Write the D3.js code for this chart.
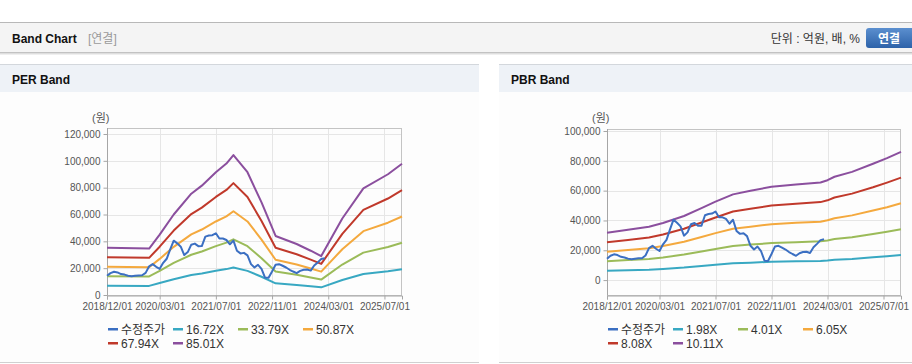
<!DOCTYPE html>
<html><head><meta charset="utf-8">
<script src="https://cdn.jsdelivr.net/npm/d3@7"></script>
<style>
html,body{margin:0;padding:0;background:#fff;}
svg{display:block;font-family:"Liberation Sans",Arial,"Noto Sans CJK KR",sans-serif;}
</style></head><body>
<svg id="c" width="912" height="364"></svg>
<script>
// ---------- data ----------
const xTickIdx = [0, 15, 31, 47, 63, 79];           // months since 2018/12
const xTickLabels = ["2018/12/01","2020/03/01","2021/07/01","2022/11/01","2024/03/01","2025/07/01"];
const perYTicks = [0,20000,40000,60000,80000,100000,120000];
const pbrYTicks = [0,20000,40000,60000,80000,100000];

// 수정주가 (monthly, index 0 = 2018/12)
const price = [14300,16300,17300,16800,15600,15200,14400,14000,14300,14600,14700,16500,21400,23000,21000,19500,24000,27000,34000,40500,38500,36000,29800,32000,37500,38300,36400,36500,43500,44300,44600,46000,42100,42100,41000,37800,40500,33000,31000,31400,29500,23000,20500,22500,19500,13000,12800,17500,22600,23000,21800,20500,18800,17500,16300,18000,18800,19000,18200,22000,24300,26800,27400];

// PER band (month index of each value)
const perIdx  = [0,12,15,19,24,27,31,34,36,40,44,48,54,58,61,67,73,80,84];
const per1672 = [6900,6800,8900,11800,14900,16000,18000,19300,20500,18000,13600,8700,7500,6500,5700,11200,15600,17700,19200];
const per3379 = [14000,13800,17900,23900,30000,32400,36400,39000,41500,36400,27400,17500,15100,13100,11500,22700,31600,35800,38900];
const per5087 = [21100,20700,26900,35900,45200,48800,54800,58600,62400,54800,41300,26300,22700,19700,17400,34100,47600,53900,58500];
const per6794 = [28200,27700,36000,48000,60300,65100,73100,78300,83400,73100,55100,35200,30400,26400,23200,45600,63500,71900,78200];
const per8501 = [35300,34600,45000,60000,75500,81500,91500,98000,104300,91500,69000,44000,38000,33000,29000,57000,79500,90000,97800];

// PBR band
const pbrIdx  = [0,6,12,16,22,27,31,36,41,47,54,61,63,65,70,76,80,84];
const pbr198  = [6200,6600,7000,7500,8400,9500,10300,11300,11700,12300,12600,12800,13100,13600,14200,15300,16000,16800];
const pbr401  = [12600,13400,14200,15200,17100,19200,20900,22800,23800,24800,25400,26000,26600,27500,28800,30900,32400,34100];
const pbr605  = [19000,20200,21400,22900,25700,28900,31500,34400,35800,37500,38400,39200,40100,41500,43400,46700,48900,51500];
const pbr808  = [25400,26900,28600,30600,34400,38600,42000,46000,47900,50000,51200,52300,53500,55400,58000,62300,65400,68700];
const pbr1011 = [31800,33700,35800,38300,43000,48300,52600,57500,59900,62600,64100,65500,67000,69300,72600,78000,81800,86000];

const colors = {price:"#3b6fc2", c1:"#38a8c2", c2:"#9bbb59", c3:"#f4a93e", c4:"#c0392b", c5:"#8b4f9e"};

// ---------- page chrome ----------
const svg = d3.select("#c");
svg.append("rect").attr("x",0).attr("y",22).attr("width",912).attr("height",31).attr("fill","#f4f4f4");
svg.append("line").attr("x1",0).attr("x2",912).attr("y1",22.5).attr("y2",22.5).attr("stroke","#b8b8b8");
svg.append("line").attr("x1",0).attr("x2",912).attr("y1",52.5).attr("y2",52.5).attr("stroke","#c2c2c2");
svg.append("line").attr("x1",0).attr("x2",912).attr("y1",53.5).attr("y2",53.5).attr("stroke","#dedede");
svg.append("line").attr("x1",0).attr("x2",912).attr("y1",54.5).attr("y2",54.5).attr("stroke","#efefef");
svg.append("text").attr("x",12).attr("y",43).attr("font-size",12).attr("font-weight","bold").attr("fill","#111").text("Band Chart");
svg.append("text").attr("x",88).attr("y",43).attr("font-size",12).attr("fill","#9a9a9a").text("[연결]");
svg.append("text").attr("x",860).attr("y",43).attr("text-anchor","end").attr("font-size",12).attr("fill","#333").text("단위 : 억원, 배, %");
const grad = svg.append("defs").append("linearGradient").attr("id","btn").attr("x1",0).attr("y1",0).attr("x2",0).attr("y2",1);
grad.append("stop").attr("offset","0%").attr("stop-color","#5b8fcf");
grad.append("stop").attr("offset","100%").attr("stop-color","#2d62a9");
svg.append("rect").attr("x",866).attr("y",28).attr("width",52).attr("height",20).attr("rx",3).attr("fill","url(#btn)");
svg.append("text").attr("x",889).attr("y",42.5).attr("text-anchor","middle").attr("font-size",12).attr("font-weight","bold").attr("fill","#fff").text("연결");

function panel(x0, w, title){
  svg.append("rect").attr("x",x0).attr("y",64).attr("width",w).attr("height",28).attr("fill","#eef2f7");
  svg.append("line").attr("x1",x0).attr("x2",x0+w).attr("y1",64.5).attr("y2",64.5).attr("stroke","#d3d7dc");
  svg.append("rect").attr("x",x0).attr("y",92).attr("width",w).attr("height",270).attr("fill","#fdfdfd");
  svg.append("line").attr("x1",x0).attr("x2",x0+w).attr("y1",362.5).attr("y2",362.5).attr("stroke","#d0d0d0");
  svg.append("text").attr("x",x0+12).attr("y",84).attr("font-size",12).attr("font-weight","bold").attr("fill","#111").text(title);
}
panel(0, 479, "PER Band");
panel(499, 413, "PBR Band");

// ---------- chart drawer ----------
function chart(o){
  const x = d3.scaleLinear().domain([0,84]).range([o.left,o.right]);
  const y = d3.scaleLinear().domain(o.yDom).range(o.yRange);
  const g = svg.append("g");
  g.selectAll(".hg").data(o.yTicks).join("line")
    .attr("x1",o.left).attr("x2",o.right).attr("y1",d=>Math.round(y(d))+0.5).attr("y2",d=>Math.round(y(d))+0.5)
    .attr("stroke","#e6e6e6");
  g.selectAll(".vg").data(xTickIdx).join("line")
    .attr("x1",d=>Math.round(x(d))+0.5).attr("x2",d=>Math.round(x(d))+0.5).attr("y1",o.top).attr("y2",o.bottom)
    .attr("stroke","#e6e6e6");
  g.append("rect").attr("x",o.left+0.5).attr("y",o.top+0.5).attr("width",o.right-o.left-1).attr("height",o.bottom-o.top)
    .attr("fill","none").attr("stroke","#c4c4c4");
  const ya = d3.axisLeft(y).tickValues(o.yTicks).tickSize(4).tickPadding(3).tickFormat(d3.format(","));
  const ay = g.append("g").attr("transform",`translate(${o.left+0.5},0)`).call(ya);
  ay.select(".domain").attr("d",`M0,${o.top}V${o.bottom}`).attr("stroke","#a6a6a6");
  ay.selectAll(".tick line").attr("stroke","#a6a6a6");
  ay.selectAll("text").attr("font-size",10).attr("fill","#555").attr("font-family","Liberation Sans, Arial, sans-serif");
  const xa = d3.axisBottom(x).tickValues(xTickIdx).tickSize(4).tickPadding(3).tickFormat((d,i)=>xTickLabels[i]);
  const ax = g.append("g").attr("transform",`translate(0,${o.bottom+0.5})`).call(xa);
  ax.select(".domain").attr("stroke","#a6a6a6");
  ax.selectAll(".tick line").attr("stroke","#a6a6a6");
  ax.selectAll("text").attr("font-size",10).attr("fill","#555").attr("font-family","Liberation Sans, Arial, sans-serif");
  g.append("text").attr("x",o.unitX).attr("y",122).attr("font-size",11).attr("fill","#555").text("(원)");
  const line = d3.line().x(d=>x(d[0])).y(d=>y(d[1]));
  o.bands.forEach(b=>{
    g.append("path").datum(o.idx.map((m,i)=>[m,b.v[i]])).attr("d",line)
      .attr("fill","none").attr("stroke",b.c).attr("stroke-width",2).attr("stroke-linejoin","round");
  });
  g.append("path").datum(price.map((v,i)=>[i,v])).attr("d",line)
    .attr("fill","none").attr("stroke",colors.price).attr("stroke-width",2).attr("stroke-linejoin","round");
  const items = [{n:"수정주가",c:colors.price}].concat(o.bands.map(b=>({n:b.n,c:b.c})));
  items.forEach((it,i)=>{
    const col = i%4, row = Math.floor(i/4);
    const lx = o.left + 1 + col*65, ly = 329 + row*14;
    svg.append("rect").attr("x",lx).attr("y",ly-1).attr("width",10).attr("height",2.5).attr("fill",it.c);
    svg.append("text").attr("x",lx+13).attr("y",ly+4.5).attr("font-size",12).attr("fill","#333").text(it.n);
  });
}

chart({left:107,right:402,top:128,bottom:295,yDom:[0,120000],yRange:[295,134],yTicks:perYTicks,unitX:92,
  idx:perIdx,
  bands:[{n:"16.72X",c:colors.c1,v:per1672},{n:"33.79X",c:colors.c2,v:per3379},{n:"50.87X",c:colors.c3,v:per5087},
         {n:"67.94X",c:colors.c4,v:per6794},{n:"85.01X",c:colors.c5,v:per8501}]});
chart({left:607,right:901,top:129,bottom:295,yDom:[-10000,100000],yRange:[295,131],yTicks:pbrYTicks,unitX:592,
  idx:pbrIdx,
  bands:[{n:"1.98X",c:colors.c1,v:pbr198},{n:"4.01X",c:colors.c2,v:pbr401},{n:"6.05X",c:colors.c3,v:pbr605},
         {n:"8.08X",c:colors.c4,v:pbr808},{n:"10.11X",c:colors.c5,v:pbr1011}]});
</script>
</body></html>
